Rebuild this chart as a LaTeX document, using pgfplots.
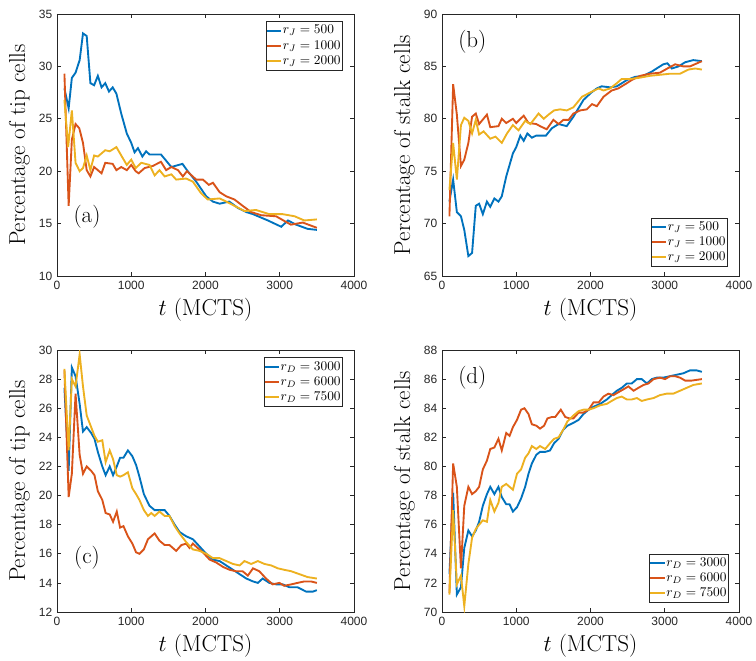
\documentclass[border=0pt]{standalone}
\usepackage{fontspec}
\usepackage{pgfplots}
\pgfplotsset{compat=1.18}
\newfontfamily\ticksf{Liberation Sans}
\definecolor{mblue}{rgb}{0,0.447,0.741}
\definecolor{mred}{rgb}{0.85,0.325,0.098}
\definecolor{myel}{rgb}{0.929,0.694,0.125}
\definecolor{axgray}{rgb}{0.15,0.15,0.15}
\pgfplotsset{
  mstyle/.style={
    width=222.75pt, height=196.5pt, scale only axis,
    anchor=north west,
    xmin=0, xmax=4000, xtick={0,1000,2000,3000,4000},
    /pgf/number format/1000 sep={},
    /pgf/number format/assume math mode=true,
    tick label style={font=\ticksf\fontsize{9}{10}\selectfont, text=axgray},
    label style={font=\fontsize{17.28}{20}\selectfont},
    axis line style={axgray, line width=0.5pt},
    tick style={axgray, line width=0.5pt},
    major tick length=3pt,
    xlabel={$t$ (MCTS)},
    legend cell align=left,
    legend style={font=\fontsize{10}{12}\selectfont, draw=axgray, line width=0.5pt,
      inner xsep=0.5pt, inner ysep=1pt, row sep=-0.6pt,
      nodes={inner xsep=1pt, inner ysep=2pt},
      /tikz/every even column/.append style={column sep=0pt}},
    legend image code/.code={\fill[#1, draw=none] (0pt,-0.75pt) rectangle (11pt,0.75pt);},
  }
}
\begin{document}
\begin{tikzpicture}
\useasboundingbox (0,0) rectangle (567pt,-495pt);
% (a)
\begin{axis}[mstyle, at={(42.75pt,-10.5pt)},
  ymin=10, ymax=35, ytick={10,15,20,25,30,35},
  ylabel={Percentage of tip cells},
  legend style={at={(0.963,0.973)}, anchor=north east}]
\addplot[mblue, line width=1.4pt] coordinates {(100,27.9)(157,26.0)(200,28.9)(250,29.4)(305,30.6)(350,33.15)(400,32.9)(450,28.4)(500,28.2)(550,29.1)(600,28.0)(650,28.4)(700,27.6)(750,28.0)(800,27.4)(865,25.5)(940,23.6)(1000,22.7)(1045,21.8)(1090,22.2)(1150,21.4)(1200,21.9)(1245,21.6)(1400,21.6)(1540,20.4)(1690,20.7)(1750,20.1)(1875,19.0)(2010,17.6)(2100,17.1)(2190,16.9)(2320,17.1)(2435,16.5)(2550,16.1)(2640,15.9)(2840,15.3)(3020,14.7)(3110,15.3)(3220,14.9)(3375,14.5)(3500,14.4)};
\addlegendentry{$r_J=500$}
\addplot[mred, line width=1.4pt] coordinates {(100,29.3)(157,16.7)(200,23.0)(250,24.5)(300,24.1)(350,22.7)(400,20.1)(450,19.5)(500,20.4)(600,19.8)(650,20.8)(750,20.7)(800,20.1)(865,20.4)(940,20.1)(1000,20.6)(1060,20.0)(1100,19.8)(1180,20.3)(1290,20.5)(1400,20.9)(1470,20.1)(1540,20.4)(1630,20.1)(1695,19.5)(1750,20.0)(1875,19.2)(1965,19.2)(2045,18.7)(2100,18.9)(2190,18.0)(2280,17.6)(2390,17.3)(2500,16.7)(2615,16.1)(2750,15.8)(2950,15.7)(3150,14.9)(3310,15.1)(3500,14.6)};
\addlegendentry{$r_J=1000$}
\addplot[myel, line width=1.4pt] coordinates {(100,26.8)(150,22.3)(200,25.8)(250,20.8)(305,20.0)(350,20.3)(400,21.5)(450,20.1)(500,21.5)(550,21.4)(650,22.0)(710,21.9)(800,22.3)(890,21.2)(940,20.6)(1000,21.1)(1060,20.3)(1135,20.8)(1245,20.6)(1315,19.6)(1380,20.1)(1450,19.5)(1540,19.7)(1605,19.2)(1740,19.3)(1830,19.0)(1940,17.9)(2030,17.3)(2190,17.4)(2280,17.1)(2525,16.2)(2680,16.3)(2860,15.9)(3040,15.9)(3200,15.7)(3330,15.3)(3500,15.4)};
\addlegendentry{$r_J=2000$}
\node[font=\fontsize{17.28}{20}\selectfont] at (rel axis cs:0.101,0.225) {(a)};
\end{axis}
% (b)
\begin{axis}[mstyle, at={(331.5pt,-10.5pt)},
  ymin=65, ymax=90, ytick={65,70,75,80,85,90},
  ylabel={Percentage of stalk cells},
  legend style={at={(0.963,0.034)}, anchor=south east}]
\addplot[mblue, line width=1.4pt] coordinates {(100,72.1)(150,74.2)(200,71.1)(255,70.7)(300,69.4)(355,66.9)(405,67.2)(455,71.7)(500,71.9)(550,70.9)(605,72.1)(650,71.6)(705,72.4)(760,72.1)(805,72.6)(865,74.5)(955,76.7)(1000,77.3)(1055,78.4)(1100,77.9)(1150,78.6)(1210,78.2)(1270,78.4)(1400,78.4)(1480,79.1)(1570,79.5)(1680,79.3)(1770,80.2)(1905,81.8)(2010,82.5)(2085,82.9)(2150,83.1)(2265,83.0)(2355,83.1)(2490,83.7)(2600,84.0)(2710,84.1)(2825,84.5)(2890,84.8)(2980,85.2)(3035,85.3)(3095,84.8)(3185,85.0)(3275,85.4)(3385,85.6)(3500,85.5)};
\addlegendentry{$r_J=500$}
\addplot[mred, line width=1.4pt] coordinates {(100,70.7)(150,83.3)(200,80.4)(255,75.5)(300,76.1)(355,77.7)(405,80.2)(455,80.5)(500,79.5)(605,80.4)(650,79.2)(760,79.3)(805,80.0)(865,79.6)(955,80.0)(1000,79.6)(1100,80.3)(1165,79.6)(1270,79.5)(1320,79.3)(1410,79.0)(1500,79.9)(1570,79.5)(1635,79.9)(1705,79.9)(1770,80.5)(1860,80.8)(1950,80.9)(2020,81.4)(2085,81.2)(2175,82.1)(2285,82.7)(2375,82.9)(2490,83.4)(2555,83.7)(2670,84.1)(2800,84.3)(2935,84.4)(3035,84.8)(3140,85.2)(3250,85.0)(3340,85.0)(3500,85.5)};
\addlegendentry{$r_J=1000$}
\addplot[myel, line width=1.4pt] coordinates {(100,73.2)(150,77.7)(200,74.2)(255,79.4)(300,80.1)(355,79.8)(405,78.6)(455,79.9)(500,78.5)(560,78.8)(650,78.1)(720,78.3)(805,77.7)(875,78.6)(955,79.4)(1030,78.9)(1120,79.8)(1190,79.5)(1300,80.5)(1370,80.0)(1435,80.4)(1510,80.8)(1590,80.9)(1680,80.8)(1770,81.1)(1885,82.1)(2020,82.6)(2110,82.9)(2175,82.7)(2265,82.9)(2355,83.4)(2420,83.8)(2535,83.8)(2645,83.9)(2800,84.1)(2935,84.2)(3070,84.3)(3205,84.3)(3320,84.7)(3410,84.8)(3500,84.7)};
\addlegendentry{$r_J=2000$}
\node[font=\fontsize{17.28}{20}\selectfont] at (rel axis cs:0.102,0.893) {(b)};
\end{axis}
% (c)
\begin{axis}[mstyle, at={(42.75pt,-262.5pt)},
  ymin=12, ymax=30, ytick={12,14,16,18,20,22,24,26,28,30},
  ylabel={Percentage of tip cells},
  legend style={at={(0.963,0.973)}, anchor=north east}]
\addplot[mblue, line width=1.4pt] coordinates {(100,27.4)(157,21.7)(200,28.8)(250,28.2)(305,26.3)(350,24.4)(400,24.7)(460,24.3)(505,23.9)(550,23.0)(610,22.0)(655,21.4)(710,22.0)(755,21.4)(805,22.0)(850,22.6)(895,22.6)(955,23.1)(1015,22.7)(1065,22.1)(1110,21.3)(1170,20.1)(1245,19.3)(1315,19.0)(1380,19.0)(1450,19.0)(1515,18.6)(1585,18.0)(1650,17.5)(1740,17.2)(1830,17.0)(1920,16.5)(2010,16.0)(2100,15.6)(2190,15.5)(2280,15.2)(2370,14.9)(2460,14.6)(2550,14.3)(2640,14.1)(2705,14.0)(2770,14.3)(2860,14.0)(2950,13.9)(3040,13.9)(3130,13.7)(3240,13.7)(3355,13.4)(3445,13.4)(3500,13.5)};
\addlegendentry{$r_D=3000$}
\addplot[mred, line width=1.4pt] coordinates {(100,28.6)(157,19.9)(200,21.5)(250,27.0)(305,22.8)(350,21.5)(400,22.0)(460,21.7)(505,21.4)(550,20.3)(610,19.7)(655,18.8)(710,18.7)(755,18.2)(805,18.9)(850,17.8)(895,17.9)(955,17.2)(1015,16.7)(1065,16.1)(1110,16.0)(1170,16.3)(1225,17.0)(1315,17.4)(1380,16.9)(1450,16.6)(1515,16.6)(1605,16.2)(1675,16.6)(1740,16.7)(1785,16.4)(1830,16.7)(1895,16.4)(1965,16.1)(2055,15.6)(2145,15.4)(2235,15.1)(2325,14.9)(2410,14.8)(2500,14.8)(2570,14.5)(2640,15.0)(2725,14.8)(2815,14.3)(2905,13.9)(2995,14.0)(3060,13.8)(3155,13.9)(3240,14.0)(3330,14.1)(3420,14.1)(3500,14.0)};
\addlegendentry{$r_D=6000$}
\addplot[myel, line width=1.4pt] coordinates {(100,28.7)(157,23.1)(200,28.0)(250,27.5)(305,29.7)(350,27.5)(400,25.5)(460,24.7)(505,24.1)(550,23.7)(610,23.8)(655,22.3)(710,23.1)(755,22.5)(805,21.4)(850,21.3)(895,21.4)(955,21.6)(1015,20.5)(1065,20.1)(1110,19.7)(1170,19.0)(1225,18.6)(1270,18.8)(1315,18.6)(1380,18.9)(1450,18.6)(1515,18.6)(1585,17.9)(1650,17.4)(1740,16.8)(1830,16.3)(1920,16.2)(2010,16.0)(2100,15.7)(2190,15.7)(2280,15.5)(2370,15.3)(2460,15.2)(2525,15.5)(2615,15.3)(2705,15.5)(2795,15.3)(2885,15.2)(2975,15.0)(3060,14.9)(3155,14.8)(3265,14.6)(3375,14.4)(3500,14.3)};
\addlegendentry{$r_D=7500$}
\node[font=\fontsize{17.28}{20}\selectfont] at (rel axis cs:0.101,0.207) {(c)};
\end{axis}
% (d)
\begin{axis}[mstyle, at={(331.5pt,-262.5pt)},
  ymin=70, ymax=88, ytick={70,72,74,76,78,80,82,84,86,88},
  ylabel={Percentage of stalk cells},
  legend style={at={(0.966,0.034)}, anchor=south east}]
\addplot[mblue, line width=1.4pt] coordinates {(100,72.6)(150,78.2)(200,71.2)(255,71.7)(300,74.4)(355,75.6)(405,75.2)(455,75.6)(500,76.2)(550,77.3)(605,78.1)(650,78.6)(705,78.1)(760,78.6)(805,77.9)(865,77.4)(910,77.4)(955,76.9)(1010,77.2)(1065,77.8)(1120,78.6)(1165,79.5)(1210,80.2)(1270,80.8)(1320,81.0)(1390,81.0)(1455,81.1)(1510,81.6)(1570,81.9)(1630,82.5)(1690,82.8)(1770,83.0)(1840,83.2)(1905,83.6)(1975,83.9)(2040,84.1)(2130,84.3)(2220,84.6)(2285,84.9)(2355,85.2)(2420,85.4)(2490,85.7)(2555,85.7)(2625,86.0)(2690,86.0)(2760,85.7)(2825,86.0)(2890,86.1)(2980,86.1)(3070,86.2)(3160,86.3)(3250,86.4)(3340,86.6)(3430,86.6)(3500,86.5)};
\addlegendentry{$r_D=3000$}
\addplot[mred, line width=1.4pt] coordinates {(100,71.3)(150,80.2)(200,78.6)(255,73.0)(300,77.3)(355,78.6)(405,78.1)(455,78.3)(500,78.6)(550,79.8)(605,80.4)(650,81.2)(705,81.3)(760,81.9)(805,81.1)(865,82.3)(910,82.1)(955,82.7)(1010,83.2)(1065,83.9)(1110,84.0)(1165,83.6)(1210,82.9)(1270,82.8)(1320,82.6)(1375,82.8)(1420,83.3)(1480,83.4)(1525,83.4)(1600,83.9)(1660,83.4)(1715,83.3)(1770,83.3)(1840,83.7)(1905,83.7)(1975,83.9)(2040,84.4)(2110,84.4)(2175,84.8)(2240,85.0)(2310,84.9)(2375,85.1)(2445,85.3)(2510,85.5)(2580,85.2)(2645,85.4)(2715,85.6)(2780,85.7)(2850,86.0)(2935,86.1)(3005,86.0)(3070,86.2)(3140,86.2)(3205,86.1)(3275,85.9)(3365,85.9)(3500,86.0)};
\addlegendentry{$r_D=6000$}
\addplot[myel, line width=1.4pt] coordinates {(100,71.2)(150,77.0)(200,71.9)(255,72.5)(300,70.4)(355,73.3)(405,75.1)(455,75.7)(500,76.0)(550,76.3)(605,76.2)(650,77.7)(705,76.9)(760,77.5)(805,78.6)(865,78.8)(910,78.6)(955,78.4)(1010,79.5)(1065,79.8)(1120,80.6)(1165,80.9)(1210,81.4)(1270,81.2)(1320,81.4)(1390,81.2)(1455,81.6)(1510,81.9)(1570,82.0)(1630,82.5)(1690,83.1)(1770,83.5)(1840,83.8)(1905,83.9)(1975,83.9)(2040,84.0)(2130,84.2)(2220,84.3)(2285,84.5)(2355,84.7)(2420,84.8)(2490,84.6)(2555,84.6)(2625,84.7)(2690,84.5)(2760,84.6)(2850,84.7)(2935,84.9)(3025,85.0)(3115,85.0)(3205,85.2)(3295,85.4)(3385,85.6)(3500,85.7)};
\addlegendentry{$r_D=7500$}
\node[font=\fontsize{17.28}{20}\selectfont] at (rel axis cs:0.102,0.893) {(d)};
\end{axis}
\end{tikzpicture}
\end{document}
